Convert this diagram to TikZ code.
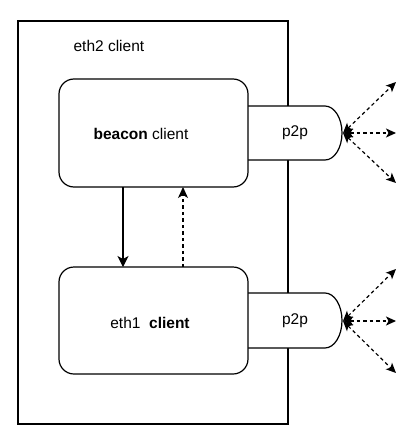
\documentclass[tikz,border=0pt]{standalone}
\usepackage{fontspec}
\setmainfont{Liberation Sans}
\usetikzlibrary{arrows.meta}
\begin{document}
\begin{tikzpicture}[x=1pt,y=-1pt,
  line width=1.2pt,
  lbl/.style={font=\fontsize{15.5}{18}\selectfont, inner sep=0pt},
  client/.style={draw, fill=white, rounded corners=15pt},
  peer/.style={dashed, dash pattern=on 3.5pt off 3pt, {Stealth[length=10pt,width=9pt,inset=2.5pt]}-{Stealth[length=10pt,width=9pt,inset=2.5pt]}}
]
\useasboundingbox (0,0) rectangle (416,442);
% outer eth2 client box
\draw (18,21) rectangle (288,424);
\node[lbl, anchor=west] (eth2) at (73,46) {eth2 client};
% p2p shapes
\draw[fill=white] (240,106) -- (325,106) arc[start angle=-90,end angle=90,x radius=17,y radius=27] -- (240,160);
\draw[fill=white] (240,293) -- (325,293) arc[start angle=-90,end angle=90,x radius=17,y radius=27.5] -- (240,348);
\node[lbl] (p2pA) at (295,133) {p2p};
\node[lbl] (p2pB) at (295,320.5) {p2p};
% client boxes
\draw[client] (59,79) rectangle (248,187);
\node[lbl] (beacon) at (141,134) {\textbf{beacon} client};
\draw[client] (59,267) rectangle (248,374);
\node[lbl] (eth1) at (150,323) {eth1\ \ \textbf{client}};
\coordinate (bA) at (123,187);
\coordinate (eA) at (123,267);
\coordinate (bB) at (183,187);
\coordinate (eB) at (183,267);
\draw[-{Stealth[length=11pt,width=11pt,inset=3pt]}] (bA) -- (eA);
\draw[dashed, dash pattern=on 3.5pt off 3pt, -{Stealth[length=11pt,width=10pt,inset=3pt]}] (eB) -- (bB);
% peer arrows
\coordinate (hA) at (343,133);
\coordinate (hB) at (343,321);
\coordinate (a1) at (396,82);
\coordinate (a2) at (396,133);
\coordinate (a3) at (396,183);
\coordinate (b1) at (396,269);
\coordinate (b2) at (396,321);
\coordinate (b3) at (396,373);
\foreach \t in {a1,a2,a3} \draw[peer] (hA) -- (\t);
\foreach \t in {b1,b2,b3} \draw[peer] (hB) -- (\t);
\end{tikzpicture}
\end{document}
